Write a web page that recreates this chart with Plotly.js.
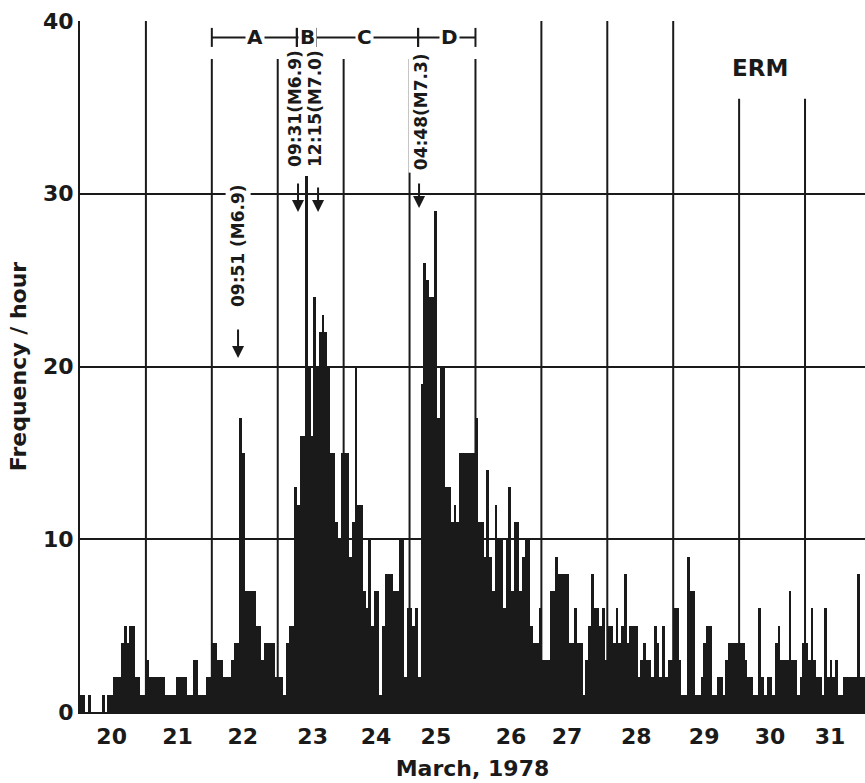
<!DOCTYPE html>
<html>
<head>
<meta charset="utf-8">
<script src="https://cdn.plot.ly/plotly-3.0.1.min.js"></script>
<style>
html,body{margin:0;padding:0;background:#fff;}
#chart{width:865px;height:783px;}
</style>
</head>
<body>
<div id="chart"></div>
<script>
// Hourly frequency of events, March 20 - 31, 1978 (24 values per day, hours 00-23)
const days = [20, 21, 22, 23, 24, 25, 26, 27, 28, 29, 30, 31];
const mar20 = [1,1,0,1,0,0,0,0,1,0,1,1,2,2,2,4,5,4,5,5,2,2,1,1];
const mar21 = [3,2,2,2,2,2,2,1,1,1,1,2,2,2,2,1,1,3,3,1,1,1,2,2];
const mar22 = [4,4,3,3,2,2,2,3,4,4,17,15,7,7,7,7,5,5,3,4,4,4,4,2];
const mar23 = [2,2,1,4,5,5,13,12,16,16,31,20,16,24,20,22,23,22,20,15,15,11,10,15];
const mar24 = [15,15,9,11,20,12,12,7,6,10,5,7,7,1,5,8,8,8,7,7,10,10,2,6];
const mar25 = [6,5,6,2,19,26,25,24,24,29,17,20,20,13,13,11,12,11,15,15,15,15,15,15];
const mar26 = [17,11,11,9,14,9,7,12,10,10,6,10,13,7,11,11,7,9,10,10,5,4,4,6];
const mar27 = [3,3,3,7,7,9,8,8,8,8,4,4,6,4,4,1,3,5,8,6,6,5,6,3];
const mar28 = [5,5,4,6,4,5,8,4,5,5,5,2,3,4,3,3,2,5,4,2,5,2,3,3];
const mar29 = [6,6,3,1,1,9,7,7,1,1,2,4,5,5,1,1,2,2,1,3,4,4,4,4];
const mar30 = [4,4,3,2,2,1,1,6,2,1,2,2,1,4,5,3,3,3,7,3,3,1,2,4];
const mar31 = [4,3,6,3,2,2,1,6,2,3,2,3,1,1,2,2,2,2,2,8,2,2];
const hourly = [mar20, mar21, mar22, mar23, mar24, mar25, mar26, mar27, mar28, mar29, mar30, mar31];

// Day tick labels and where they sit on the time axis (in days)
const dayLabels = ['20','21','22','23','24','25','26','27','28','29','30','31'];
const dayLabelPos = [20.48, 21.48, 22.47, 23.53, 24.49, 25.40, 26.54, 27.39, 28.44, 29.47, 30.47, 31.38];
const yTicks = [0, 10, 20, 30, 40];

// Day boundaries drawn as vertical lines: [day, top value]
const dayLines = [[21,40],[22,37.8],[23,37.8],[24,37.8],[25,37.8],[26,37.8],[27,40],[28,40],[29,40],[30,35.5],[31,35.5]];

// Periods A-D (start, end, label position)
const periodNames = ['A','B','C','D'];
const periodStart = [22.0, 23.29, 23.58, 25.13];
const periodEnd   = [23.29, 23.58, 25.13, 26.0];
const periodLabelX = [22.65, 23.45, 24.32, 25.6];
const periodY = 39.05;

// Main shocks: label, label position, arrow tip
const shockText = ['09:51 (M6.9)', '09:31(M6.9)', '12:15(M7.0)', '04:48(M7.3)'];
const shockTextX = [22.398, 23.262, 23.566, 25.175];
const shockTextY = [26.98, 34.91, 34.91, 34.73];
const arrowX = [22.398, 23.308, 23.612, 25.144];
const arrowTipY = [20.49, 28.94, 28.94, 29.17];
const arrowLen = [30, 30, 26, 26];

const x = [], y = [];
days.forEach((d, k) => {
  hourly[k].forEach((v, h) => { x.push(d + (h + 0.5) / 24); y.push(v); });
});

const ink = '#1a1a1a';
const trace = {
  type: 'bar', x: x, y: y, width: 1/24,
  marker: {color: ink, line: {width: 0}},
  hoverinfo: 'x+y'
};

const shapes = [];
dayLines.forEach(([d, top]) => {
  shapes.push({type:'line', xref:'x', yref:'y', x0:d, x1:d, y0:0, y1:top, line:{color:ink, width:2}, layer:'below'});
});
periodNames.forEach((n, i) => {
  shapes.push({type:'line', xref:'x', yref:'y', x0:periodStart[i], x1:periodEnd[i], y0:periodY, y1:periodY, line:{color:ink, width:2}});
  shapes.push({type:'line', xref:'x', yref:'y', x0:periodStart[i], x1:periodStart[i], y0:periodY-0.55, y1:periodY+0.55, line:{color:ink, width:2}});
  shapes.push({type:'line', xref:'x', yref:'y', x0:periodEnd[i], x1:periodEnd[i], y0:periodY-0.55, y1:periodY+0.55, line:{color:ink, width:2}});
});

const annotations = [];
periodNames.forEach((n, i) => {
  annotations.push({x: periodLabelX[i], y: periodY, xref:'x', yref:'y', text: n, showarrow:false,
    font:{family:'DejaVu Sans', size:20, weight:'bold', color:ink}, bgcolor:'#fff', borderpad:1});
});
shockText.forEach((t, i) => {
  annotations.push({x: shockTextX[i], y: shockTextY[i], xref:'x', yref:'y', text: t, textangle:-90, showarrow:false,
    font:{family:'DejaVu Sans', size:17, weight:'bold', color:ink}, bgcolor:'#fff', borderpad:2});
  annotations.push({x: arrowX[i], y: arrowTipY[i], xref:'x', yref:'y', text:'', showarrow:true,
    ax:0, ay:-arrowLen[i], arrowhead:2, arrowsize:1.2, arrowwidth:2, arrowcolor:ink});
});
annotations.push({x: 30.32, y: 37.28, xref:'x', yref:'y', text:'ERM', showarrow:false,
  font:{family:'DejaVu Sans', size:23, weight:'bold', color:ink}});

const layout = {
  width: 865, height: 783,
  margin: {l: 80, r: 0, t: 21, b: 71},
  paper_bgcolor: '#fff', plot_bgcolor: '#fff',
  showlegend: false, bargap: 0,
  font: {family: 'DejaVu Sans', color: ink},
  xaxis: {
    range: [20, 31.91], tickmode: 'array', tickvals: dayLabelPos, ticktext: dayLabels,
    ticks: '', showgrid: false, zeroline: false, showline: true, linecolor: ink, linewidth: 2,
    tickfont: {family: 'DejaVu Sans', size: 22, weight: 'bold', color: ink},
    ticklabelstandoff: 4,
    title: {text: 'March, 1978', font: {family: 'DejaVu Sans', size: 22, weight: 'bold', color: ink}, standoff: 12}
  },
  yaxis: {
    range: [0, 40], tickmode: 'array', tickvals: yTicks,
    ticks: '', showgrid: true, gridcolor: ink, gridwidth: 2, zeroline: false,
    showline: true, linecolor: ink, linewidth: 2,
    tickfont: {family: 'DejaVu Sans', size: 22, weight: 'bold', color: ink},
    ticklabelstandoff: 0,
    title: {text: 'Frequency / hour', font: {family: 'DejaVu Sans', size: 22, weight: 'bold', color: ink}, standoff: 10}
  },
  shapes: shapes,
  annotations: annotations
};

Plotly.newPlot('chart', [trace], layout, {displayModeBar: false, staticPlot: true});
</script>
</body>
</html>
